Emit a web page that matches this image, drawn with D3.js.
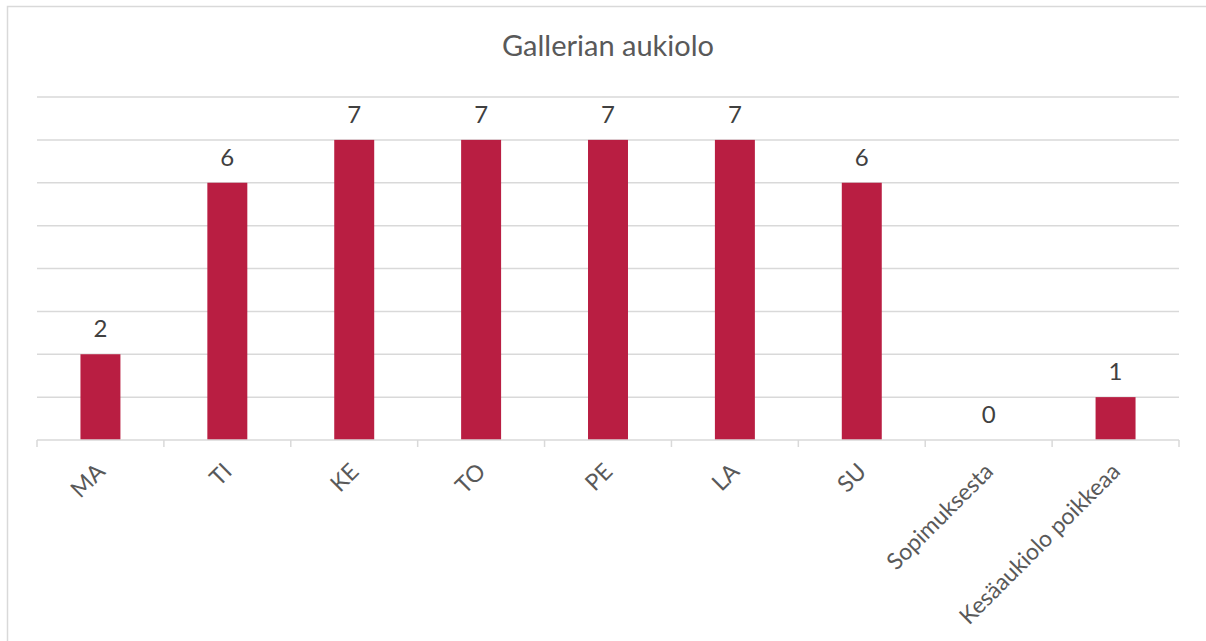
<!DOCTYPE html>
<html>
<head>
<meta charset="utf-8">
<script src="https://cdn.jsdelivr.net/npm/d3@7"></script>
<style>
  body { margin: 0; background: #fff; }
  svg { display: block; }
  text { font-family: Lato, "Open Sans", sans-serif; }
</style>
</head>
<body>
<script>
const title = "Gallerian aukiolo";
const categories = ["MA", "TI", "KE", "TO", "PE", "LA", "SU", "Sopimuksesta", "Kesäaukiolo poikkeaa"];
const values = [2, 6, 7, 7, 7, 7, 6, 0, 1];
const yTicks = [0, 1, 2, 3, 4, 5, 6, 7, 8];

const W = 1206, H = 641;
const plotLeft = 37, plotRight = 1179, plotTop = 97, plotBottom = 440;

const svg = d3.select("body").append("svg")
    .attr("width", W)
    .attr("height", H);

// chart border
svg.append("rect")
    .attr("x", 7.5).attr("y", 6.5)
    .attr("width", W + 10).attr("height", H + 10)
    .attr("fill", "#fff")
    .attr("stroke", "#d9d9d9")
    .attr("stroke-width", 1.5);

const x = d3.scaleBand()
    .domain(categories)
    .range([plotLeft, plotRight])
    .paddingInner(0.685)
    .paddingOuter(0.3425);

const band = d3.scaleBand().domain(categories).range([plotLeft, plotRight]);

const y = d3.scaleLinear()
    .domain([0, 8])
    .range([plotBottom, plotTop]);

// gridlines
svg.append("g")
    .selectAll("line")
    .data(yTicks.slice(1))
    .enter()
    .append("line")
    .attr("x1", plotLeft).attr("x2", plotRight)
    .attr("y1", d => y(d)).attr("y2", d => y(d))
    .attr("stroke", "#d9d9d9")
    .attr("stroke-width", 1.5);

// bars
svg.append("g")
    .selectAll("rect")
    .data(values)
    .enter()
    .append("rect")
    .attr("x", (d, i) => x(categories[i]))
    .attr("y", d => y(d))
    .attr("width", x.bandwidth())
    .attr("height", d => y(0) - y(d))
    .attr("fill", "#B91E42");

// x axis
const xAxis = svg.append("g")
    .attr("transform", `translate(0,${plotBottom})`)
    .call(d3.axisBottom(band).tickSize(0).tickFormat(""));
xAxis.select(".domain").remove();
xAxis.append("line")
    .attr("x1", plotLeft).attr("x2", plotRight)
    .attr("stroke", "#d9d9d9").attr("stroke-width", 1.5);
xAxis.selectAll(".boundary")
    .data(categories.concat([null]))
    .enter()
    .append("line")
    .attr("x1", (d, i) => plotLeft + i * band.bandwidth())
    .attr("x2", (d, i) => plotLeft + i * band.bandwidth())
    .attr("y1", 0).attr("y2", 7)
    .attr("stroke", "#d9d9d9").attr("stroke-width", 1.5);

// category labels
svg.append("g")
    .selectAll("text")
    .data(categories)
    .enter()
    .append("text")
    .attr("transform", d => `translate(${band(d) + band.bandwidth() / 2 + 6},${plotBottom + 33}) rotate(-45)`)
    .attr("text-anchor", "end")
    .attr("font-size", 23)
    .attr("fill", "#595959")
    .text(d => d);

// value labels
svg.append("g")
    .selectAll("text")
    .data(values)
    .enter()
    .append("text")
    .attr("x", (d, i) => x(categories[i]) + x.bandwidth() / 2)
    .attr("y", d => y(d) - 17)
    .attr("text-anchor", "middle")
    .attr("font-size", 24)
    .attr("fill", "#404040")
    .text(d => d);

// title
svg.append("text")
    .attr("x", 608)
    .attr("y", 56)
    .attr("text-anchor", "middle")
    .attr("font-size", 29)
    .attr("fill", "#595959")
    .text(title);
</script>
</body>
</html>
